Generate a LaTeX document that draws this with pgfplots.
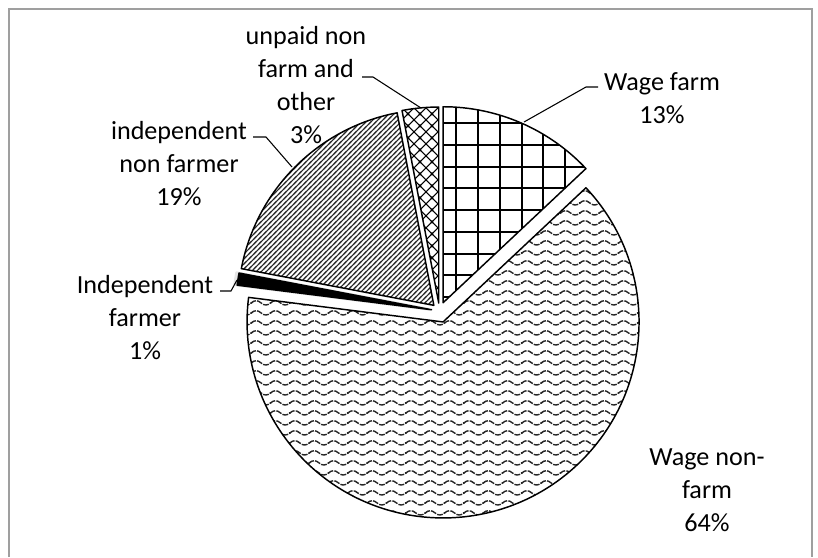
\documentclass[border=0pt]{standalone}
\usepackage{pgfplots}
\pgfplotsset{compat=1.18}
\usetikzlibrary{patterns}
\usepackage{fontspec}
\setmainfont{Carlito}

% big square grid (Wage farm)
\pgfdeclarepatternformonly{biggrid}{\pgfqpoint{-1pt}{-1pt}}{\pgfqpoint{17.3pt}{17.3pt}}{\pgfqpoint{16.3pt}{16.3pt}}{%
  \pgfsetlinewidth{1.5pt}%
  \pgfpathmoveto{\pgfqpoint{0pt}{-1pt}}\pgfpathlineto{\pgfqpoint{0pt}{17.3pt}}%
  \pgfpathmoveto{\pgfqpoint{-1pt}{0pt}}\pgfpathlineto{\pgfqpoint{17.3pt}{0pt}}%
  \pgfusepath{stroke}}
% waves (Wage non-farm)
\pgfdeclarepatternformonly{waves}{\pgfqpoint{-0.6pt}{0pt}}{\pgfqpoint{15.1pt}{7.5pt}}{\pgfqpoint{14.5pt}{7.5pt}}{%
  \pgfsetlinewidth{1.05pt}%
  \pgfsetdash{{4.4pt}{0.9pt}}{0pt}%
  \pgfpathmoveto{\pgfqpoint{-0.6pt}{3.75pt}}%
  \pgfpathlineto{\pgfqpoint{0pt}{3.75pt}}%
  \pgfpathcurveto{\pgfqpoint{2.4pt}{5.9pt}}{\pgfqpoint{4.85pt}{5.9pt}}{\pgfqpoint{7.25pt}{3.75pt}}%
  \pgfpathcurveto{\pgfqpoint{9.65pt}{1.6pt}}{\pgfqpoint{12.1pt}{1.6pt}}{\pgfqpoint{14.5pt}{3.75pt}}%
  \pgfpathlineto{\pgfqpoint{15.1pt}{3.75pt}}%
  \pgfusepath{stroke}}
% dense NE stripes (independent non farmer)
\pgfdeclarepatternformonly{nestripes}{\pgfqpoint{-1pt}{-1pt}}{\pgfqpoint{4.75pt}{4.75pt}}{\pgfqpoint{3.75pt}{3.75pt}}{%
  \pgfsetlinewidth{0.7pt}%
  \pgfpathmoveto{\pgfqpoint{-1pt}{-1pt}}\pgfpathlineto{\pgfqpoint{4.75pt}{4.75pt}}%
  \pgfusepath{stroke}}
% diagonal crosshatch (unpaid)
\pgfdeclarepatternformonly{xhatch}{\pgfqpoint{-1pt}{-1pt}}{\pgfqpoint{10pt}{10pt}}{\pgfqpoint{9pt}{9pt}}{%
  \pgfsetlinewidth{0.8pt}%
  \pgfpathmoveto{\pgfqpoint{-1pt}{-1pt}}\pgfpathlineto{\pgfqpoint{10pt}{10pt}}%
  \pgfpathmoveto{\pgfqpoint{-1pt}{10pt}}\pgfpathlineto{\pgfqpoint{10pt}{-1pt}}%
  \pgfusepath{stroke}}

% pie centre (px), radius
\def\pcx{439.5}
\def\pcy{311}
\def\pr{147pt}
% #1 start (percent), #2 value (percent), #3 explode (px), #4 style
\newcommand\pieslice[4]{%
  \pgfmathsetmacro\phiA{#1*3.6}%
  \pgfmathsetmacro\phiB{(#1+#2)*3.6}%
  \pgfmathsetmacro\phiM{(\phiA+\phiB)/2}%
  \pgfmathsetmacro\cxx{\pcx+#3*sin(\phiM)}%
  \pgfmathsetmacro\cyy{\pcy-#3*cos(\phiM)}%
  \pgfmathsetmacro\thA{90-\phiA}%
  \pgfmathsetmacro\thB{90-\phiB}%
  \edef\doslice{\noexpand\path[#4, line join=round]
    (axis cs:\cxx,\cyy) -- ++(\thA:\pr) arc[start angle=\thA, end angle=\thB, radius=\pr] -- cycle;}%
  \doslice
}

\begin{document}
\begin{tikzpicture}
\begin{axis}[x=0.75pt, y=0.75pt, y dir=reverse,
  xmin=0, xmax=818, ymin=0, ymax=557,
  hide axis, clip=false]
\path (axis cs:0,0) rectangle (axis cs:818,557);
\draw[gray!75, line width=1.3pt] (axis cs:9,557) -- (axis cs:9,9) -- (axis cs:812,9) -- (axis cs:812,557);

% slices: Wage farm 13, Wage non-farm 64, Independent farmer 1, independent non farmer 19, unpaid 3
\pieslice{0}{13}{9}{pattern=biggrid, draw=black, line width=1.1pt}
\pieslice{13}{64}{11.5}{pattern=waves, pattern color=black!85, draw=black, line width=1.1pt}
\pieslice{77}{1}{10.5}{fill=black!18, draw=black!10, line width=2pt}
\pieslice{77}{1}{8}{fill=black, draw=black, line width=1.1pt}
\pieslice{78}{19}{8}{pattern=nestripes, pattern color=black!85, draw=black, line width=1.1pt}
\pieslice{97}{3}{8}{pattern=xhatch, draw=black, line width=1.1pt}

% leader lines
\draw[line width=0.8pt] (axis cs:598,87) -- (axis cs:586,87) -- (axis cs:524,122);
\draw[line width=0.8pt] (axis cs:362,77) -- (axis cs:373,77) -- (axis cs:421,108);
\draw[line width=0.8pt] (axis cs:253,137) -- (axis cs:266,137) -- (axis cs:292,167);
\draw[line width=0.8pt] (axis cs:220,291) -- (axis cs:231,291) -- (axis cs:237,280);

% labels
\tikzset{lbl/.style={align=center, inner sep=0pt, font=\fontsize{19.6}{24.75}\selectfont}}
\node[lbl] at (axis cs:306,85) {unpaid non\\farm and\\other\\3\%};
\node[lbl] at (axis cs:662,98) {Wage farm\\13\%};
\node[lbl] at (axis cs:179,164) {independent\\non farmer\\19\%};
\node[lbl] at (axis cs:145,318) {Independent\\farmer\\1\%};
\node[lbl] at (axis cs:707,490) {Wage non-\\farm\\64\%};
\end{axis}
\end{tikzpicture}
\end{document}
